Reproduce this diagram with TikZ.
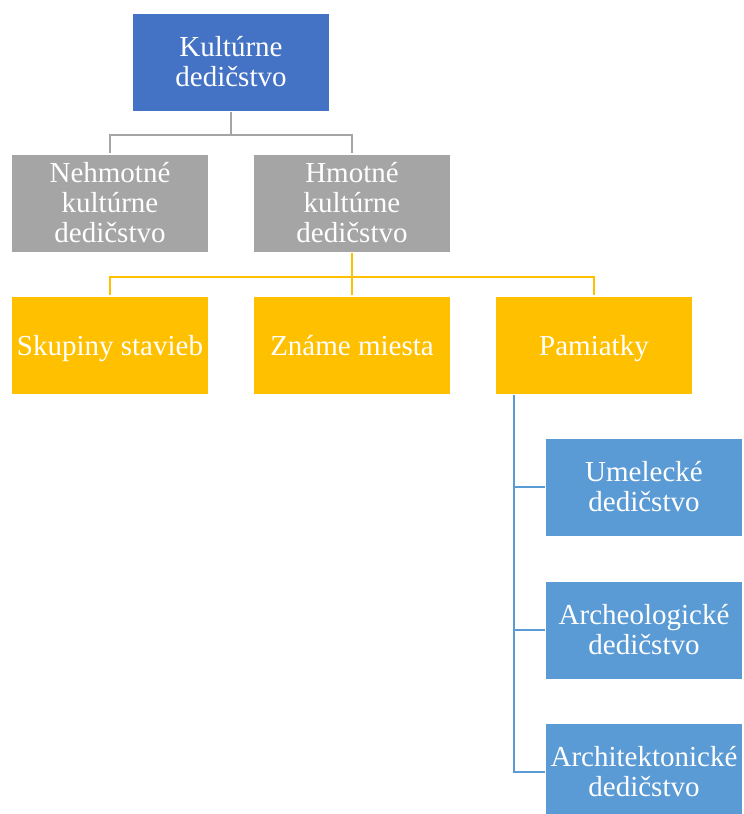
\documentclass[tikz,border=0pt]{standalone}
\usepackage{fontspec}
\setmainfont{Liberation Serif}
\definecolor{topblue}{HTML}{4472C4}
\definecolor{boxgray}{HTML}{A5A5A5}
\definecolor{boxgold}{HTML}{FFC000}
\definecolor{boxblue}{HTML}{5B9BD5}
\begin{document}
\begin{tikzpicture}[x=1pt,y=-1pt,line width=2.5pt]
  \tikzstyle{box}=[rectangle,minimum width=196pt,minimum height=97pt,inner sep=0pt,align=center,text=white,font=\fontsize{29}{30}\selectfont]
  \tikzstyle{oneline}=[box,text height=24pt,text depth=4pt]
  \useasboundingbox (0,0) rectangle (744,814);
  \node[box,fill=topblue] (D_1) at (231,62) {Kultúrne\\dedičstvo};
  \node[box,fill=boxgray] (D_2) at (110,203) {Nehmotné\\kultúrne\\dedičstvo};
  \node[box,fill=boxgray] (D_3) at (352,203) {Hmotné\\kultúrne\\dedičstvo};
  \node[oneline,fill=boxgold] (D_4) at (110,345) {Skupiny stavieb};
  \node[oneline,fill=boxgold] (D_5) at (352,345) {Známe miesta};
  \node[oneline,fill=boxgold] (D_6) at (594,345) {Pamiatky};
  \node[box,fill=boxblue] (D_7) at (644,487) {Umelecké\\dedičstvo};
  \node[box,fill=boxblue] (D_8) at (644,630) {Archeologické\\dedičstvo};
  \node[box,fill=boxblue] (D_9) at (644,772) {Architektonické\\dedičstvo};

  \draw[boxgray] (D_1.south) -- ++(0,23) -| (D_2.north);
  \draw[boxgray] (D_1.south) -- ++(0,23) -| (D_3.north);
  \draw[boxgold] (D_3.south) -- ++(0,24) -| (D_4.north);
  \draw[boxgold] (D_3.south) -- (D_5.north);
  \draw[boxgold] (D_3.south) -- ++(0,24) -| (D_6.north);
  \coordinate (P_1) at ([xshift=19pt]D_6.south west);
  \draw[boxblue] (P_1) |- (D_7.west);
  \draw[boxblue] (P_1) |- (D_8.west);
  \draw[boxblue] (P_1) |- (D_9.west);
\end{tikzpicture}
\end{document}
